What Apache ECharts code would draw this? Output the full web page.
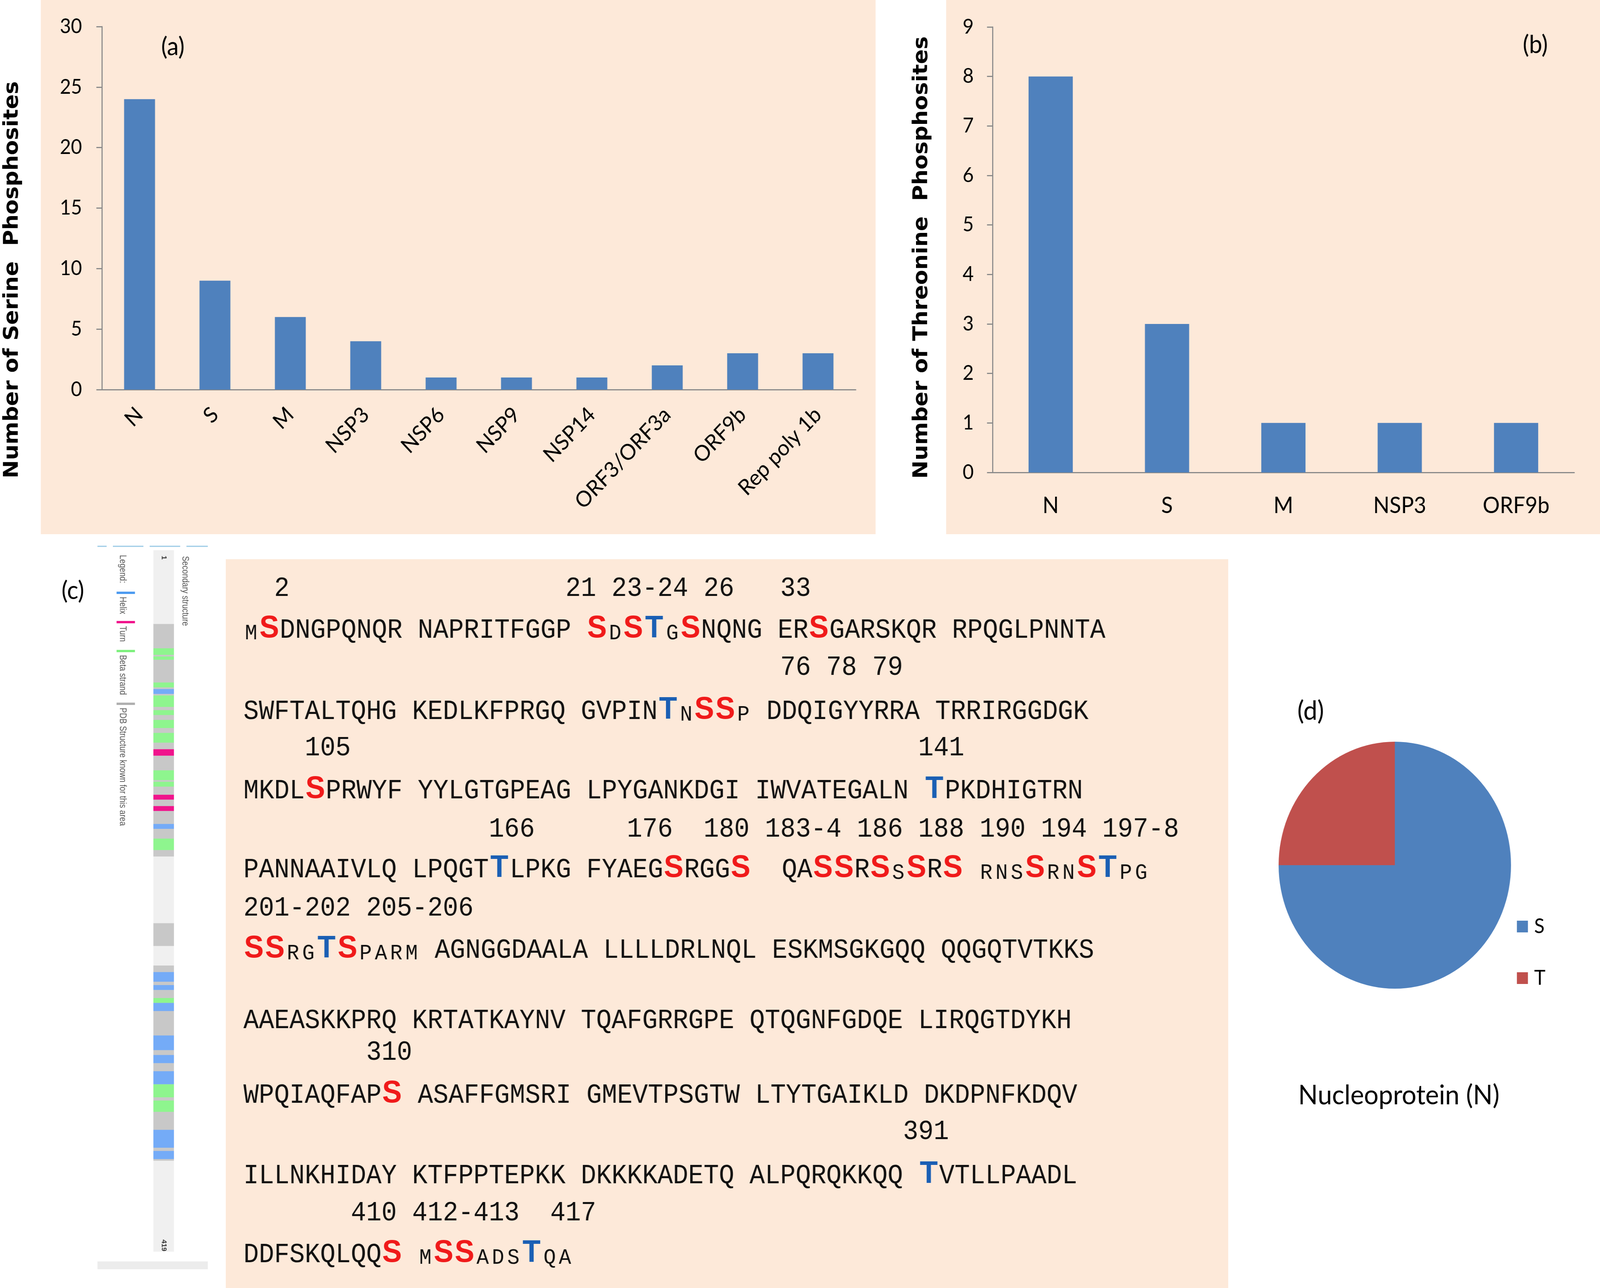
<!DOCTYPE html>
<html>
<head>
<meta charset="utf-8">
<script src="https://cdn.jsdelivr.net/npm/echarts@6/dist/echarts.min.js"></script>
<style>
html,body{margin:0;padding:0;background:#fff;overflow:hidden}
#main{width:4351px;height:3296px;transform-origin:0 0}
</style>
</head>
<body>
<div id="main"></div>
<script>
// (a) serine phosphosites per protein
let serineCats = ["N","S","M","NSP3","NSP6","NSP9","NSP14","ORF3/ORF3a","ORF9b","Rep poly 1b"]
let serineVals = [24,9,6,4,1,1,1,2,3,3]
// (b) threonine phosphosites per protein
let threoCats = ["N","S","M","NSP3","ORF9b"]
let threoVals = [8,3,1,1,1]
// (d) nucleoprotein S / T share
let pieNames = ["S","T"]
let pieVals = [24,8]

// (c) secondary structure strip, residue ranges [start, end]
let pdbSegs = [[41,184],[225,239],[251,371]]
let strandSegs = [[56,60],[61,63],[77,80],[85,92],[94,97],[100,105],[108,114],[131,137],[138,141],[173,180],[271,274],[324,332],[334,341]]
let helixSegs = [[81,84],[164,167],[255,261],[263,266],[274,279],[294,303],[306,311],[316,324],[352,363],[365,370]]
let turnSegs = [[118,122],[146,149],[153,156]]

// (c) sequence: lowercase = small letter, {S} = red site, [T] = blue site
let seqLines = [
    "m{S}DNGPQNQR NAPRITFGGP {S}d{S}[T]g{S}NQNG ER{S}GARSKQR RPQGLPNNTA",
    "SWFTALTQHG KEDLKFPRGQ GVPIN[T]n{S}{S}p DDQIGYYRRA TRRIRGGDGK",
    "MKDL{S}PRWYF YYLGTGPEAG LPYGANKDGI IWVATEGALN [T]PKDHIGTRN",
    "PANNAAIVLQ LPQGT[T]LPKG FYAEG{S}RGG{S}  QA{S}{S}R{S}s{S}R{S} rns{S}rn{S}[T]pg",
    "{S}{S}rg[T]{S}parm AGNGGDAALA LLLLDRLNQL ESKMSGKGQQ QQGQTVTKKS",
    "AAEASKKPRQ KRTATKAYNV TQAFGRRGPE QTQGNFGDQE LIRQGTDYKH",
    "WPQIAQFAP{S} ASAFFGMSRI GMEVTPSGTW LTYTGAIKLD DKDPNFKDQV",
    "ILLNKHIDAY KTFPPTEPKK DKKKKADETQ ALPQRQKKQQ [T]VTLLPAADL",
    "DDFSKQLQQ{S} m{S}{S}ads[T]qa"
]
let numLines = [
    "  2                  21 23-24 26   33",
    "                                   76 78 79",
    "    105                                     141",
    "                166      176  180 183-4 186 188 190 194 197-8",
    "201-202 205-206",
    "",
    "        310",
    "                                           391",
    "       410 412-413  417"
]
let seqY = [1615,1823,2026,2228,2434,2614,2805,3011,3213]
let numY = [1507,1709,1915,2123,2325,0,2694,2897,3105]

let peach = "#fde9d9"
let barBlue = "#4f81bd"
let labFont = "Lato"

// fit the fixed-size figure into whatever window we get
let box = document.getElementById("main")
box.style.transform = "scale(" + (window.innerWidth / 4351) + "," + (window.innerHeight / 3296) + ")"

function toRich(line){
    let out = "", run = ""
    function flush(){ if(run){ out += "{n|" + run + "}"; run = "" } }
    for(let i = 0; i < line.length; i++){
        let c = line[i]
        if(c == "{"){ flush(); out += "{r|" + line[i+1] + "}"; i += 2 }
        else if(c == "["){ flush(); out += "{b|" + line[i+1] + "}"; i += 2 }
        else if(c != " " && c != c.toUpperCase()){ flush(); out += "{s|" + c.toUpperCase() + "}" }
        else run += c
    }
    flush()
    return out
}

let cell = 41.7
let richStyles = {
    n:{fontFamily:"Liberation Mono",fontSize:69.5,fill:"#111",verticalAlign:"bottom",lineHeight:80},
    s:{fontFamily:"Liberation Mono",fontSize:56,fill:"#111",verticalAlign:"bottom",lineHeight:80,width:cell,align:"center"},
    r:{fontFamily:"Liberation Sans",fontWeight:"bold",fontSize:80,fill:"#f01a1a",verticalAlign:"bottom",lineHeight:80,width:57,align:"center"},
    b:{fontFamily:"Liberation Sans",fontWeight:"bold",fontSize:80,fill:"#1a5fb4",verticalAlign:"bottom",lineHeight:80,width:57,align:"center"}
}

let stripColors = ["#c8c8c8","#8ef58e","#74abf7","#f0148c"]
let stripData = []
pdbSegs.forEach(s => stripData.push([s[0], s[1], 0]))
strandSegs.forEach(s => stripData.push([s[0], s[1], 1]))
helixSegs.forEach(s => stripData.push([s[0], s[1], 2]))
turnSegs.forEach(s => stripData.push([s[0], s[1], 3]))

let graphics = [
    {type:"rect",z:-10,shape:{x:111,y:0,width:2270,height:1367},style:{fill:peach}},
    {type:"rect",z:-10,shape:{x:2573,y:0,width:1778,height:1367},style:{fill:peach}},
    {type:"rect",z:-10,shape:{x:614,y:1431,width:2726,height:1865},style:{fill:peach}},
    {type:"rect",z:-10,shape:{x:417,y:1408,width:56,height:1795},style:{fill:"#f0f0f0"}},
    {type:"rect",z:-10,shape:{x:265,y:3228,width:300,height:20},style:{fill:"#ececec"}},
    {type:"text",x:33,y:716,rotation:Math.PI/2,style:{text:"Number of Serine  Phosphosites",font:"bold 56px 'DejaVu Sans'",fill:"#000",textAlign:"center",textVerticalAlign:"middle"}},
    {type:"text",x:2506,y:659,rotation:Math.PI/2,style:{text:"Number of Threonine  Phosphosites",font:"bold 56px 'DejaVu Sans'",fill:"#000",textAlign:"center",textVerticalAlign:"middle"}},
    {type:"text",x:470,y:120,style:{text:"(a)",font:"64px Lato",fill:"#000",textAlign:"center",textVerticalAlign:"middle"}},
    {type:"text",x:4175,y:115,style:{text:"(b)",font:"64px Lato",fill:"#000",textAlign:"center",textVerticalAlign:"middle"}},
    {type:"text",x:198,y:1512,style:{text:"(c)",font:"64px Lato",fill:"#000",textAlign:"center",textVerticalAlign:"middle"}},
    {type:"text",x:3528,y:1820,style:{text:"(d)",font:"68px Lato",fill:"#000",textAlign:"left",textVerticalAlign:"middle"}},
    {type:"text",x:3804,y:2803,style:{text:"Nucleoprotein (N)",font:"70px Lato",fill:"#000",textAlign:"center",textVerticalAlign:"middle"}}
]

// thin blue header lines above the structure strip
;[[265,290],[307,390],[407,490],[507,565]].forEach(function(p){
    graphics.push({type:"line",shape:{x1:p[0],y1:1398,x2:p[1],y2:1398},style:{stroke:"#9ccbe6",lineWidth:3}})
})
// legend marks of the strip
;[[1517,"#4d9bf0"],[1592,"#f0148c"],[1666,"#7ef07e"],[1801,"#b0b0b0"]].forEach(function(p){
    graphics.push({type:"rect",shape:{x:317,y:p[0]-3,width:50,height:6},style:{fill:p[1]}})
})
;[["Legend:",1420],["Helix",1527],["Turn",1602],["Beta strand",1676],["PDB Structure known for this area",1811]].forEach(function(p){
    graphics.push({type:"text",x:333,y:p[1],rotation:-Math.PI/2,scaleY:1.3,
        style:{text:p[0],font:"20px Liberation Sans",fill:"#555",textAlign:"left",textVerticalAlign:"middle"}})
})
graphics.push({type:"text",x:503,y:1423,rotation:-Math.PI/2,scaleY:1.3,
    style:{text:"Secondary structure",font:"20px Liberation Sans",fill:"#555",textAlign:"left",textVerticalAlign:"middle"}})
graphics.push({type:"text",x:445,y:1422,rotation:-Math.PI/2,
    style:{text:"1",font:"bold 18px Liberation Sans",fill:"#333",textAlign:"left",textVerticalAlign:"middle"}})
graphics.push({type:"text",x:445,y:3172,rotation:-Math.PI/2,
    style:{text:"419",font:"bold 18px Liberation Sans",fill:"#333",textAlign:"left",textVerticalAlign:"middle"}})

seqLines.forEach(function(line, i){
    graphics.push({type:"text",x:662,y:seqY[i]+34,
        style:{text:toRich(line),rich:richStyles,textAlign:"left",textVerticalAlign:"bottom"}})
})
numLines.forEach(function(line, i){
    if(!line) return
    graphics.push({type:"text",x:662,y:numY[i],
        style:{text:line,font:"69.5px Liberation Mono",fill:"#111",textAlign:"left",textVerticalAlign:"middle"}})
})

var myChart = echarts.init(box)

var axisLineStyle = {color:"#8a8a8a",width:3}

var option = {
    backgroundColor:"#fff",
    animation:false,
    grid:[
        {left:277,top:68,width:2050,height:929},
        {left:2699,top:69,width:1582,height:1140},
        {left:417,top:1426,width:56,height:1744}
    ],
    xAxis:[
        {type:"category",gridIndex:0,data:serineCats,
         axisLine:{lineStyle:axisLineStyle},axisTick:{length:18,lineStyle:{color:"#8a8a8a",width:3}},
         axisLabel:{rotate:45,interval:0,margin:55,fontSize:56,fontFamily:labFont,color:"#000"}},
        {type:"category",gridIndex:1,data:threoCats,
         axisLine:{lineStyle:axisLineStyle},axisTick:{length:18,lineStyle:{color:"#8a8a8a",width:3}},
         axisLabel:{interval:0,margin:56,fontSize:58,fontFamily:labFont,color:"#000"}},
        {type:"category",gridIndex:2,data:["N"],show:false}
    ],
    yAxis:[
        {type:"value",gridIndex:0,min:0,max:30,interval:5,
         axisLine:{show:true,lineStyle:axisLineStyle},axisTick:{show:true,length:15,lineStyle:{color:"#8a8a8a",width:3}},
         splitLine:{show:false},
         axisLabel:{margin:54,fontSize:52,fontFamily:labFont,color:"#000"}},
        {type:"value",gridIndex:1,min:0,max:9,interval:1,
         axisLine:{show:true,lineStyle:axisLineStyle},axisTick:{show:true,length:15,lineStyle:{color:"#8a8a8a",width:3}},
         splitLine:{show:false},
         axisLabel:{margin:51,fontSize:52,fontFamily:labFont,color:"#000"}},
        {type:"value",gridIndex:2,min:0,max:419,inverse:true,show:false}
    ],
    legend:{
        data:pieNames,orient:"vertical",left:4120,top:2340,
        icon:"rect",itemWidth:30,itemHeight:30,itemGap:80,selectedMode:false,
        textStyle:{fontSize:52,fontFamily:labFont,color:"#000",padding:[0,0,0,12]}
    },
    series:[
        {type:"bar",xAxisIndex:0,yAxisIndex:0,data:serineVals,barWidth:"41%",itemStyle:{color:barBlue}},
        {type:"bar",xAxisIndex:1,yAxisIndex:1,data:threoVals,barWidth:"38%",itemStyle:{color:barBlue}},
        {type:"custom",xAxisIndex:2,yAxisIndex:2,data:stripData,
         renderItem:function(params, api){
             let p0 = api.coord([0, api.value(0)])
             let p1 = api.coord([0, api.value(1)])
             let w = api.size([1, 0])[0]
             return {type:"rect",shape:{x:p0[0]-w/2,y:p0[1],width:w,height:p1[1]-p0[1]},
                     style:{fill:stripColors[api.value(2)]}}
         }},
        {type:"pie",center:[3793,2214],radius:316,startAngle:90,clockwise:true,
         label:{show:false},labelLine:{show:false},
         data:pieNames.map((n, i) => ({name:n,value:pieVals[i],itemStyle:{color:i == 0 ? "#4f81bd" : "#c0504d"}}))}
    ],
    graphic:graphics
}

myChart.setOption(option)
</script>
</body>
</html>
